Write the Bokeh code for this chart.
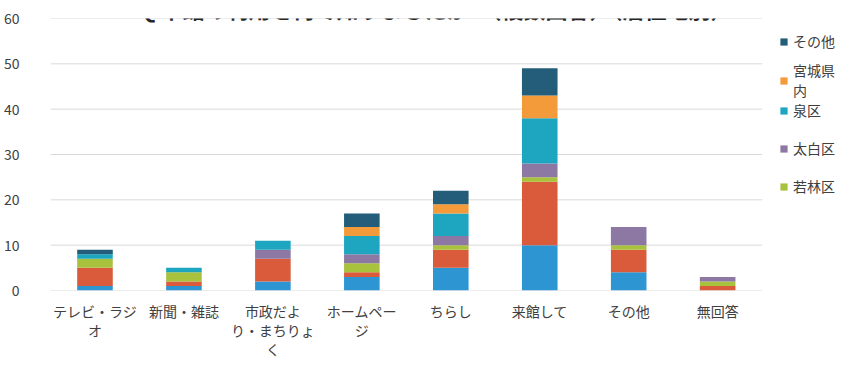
from bokeh.plotting import figure
from bokeh.models import Legend, LegendItem, Label, FixedTicker, ColumnDataSource, Range1d
from bokeh.embed import file_html
from bokeh.resources import INLINE

categories = ["テレビ・ラジオ", "新聞・雑誌", "市政だより・まちりょく", "ホームページ",
              "ちらし", "来館して", "その他", "無回答"]
tick_labels = ["テレビ・ラジ\nオ", "新聞・雑誌", "市政だよ\nり・まちりょ\nく", "ホームペー\nジ",
               "ちらし", "来館して", "その他", "無回答"]
series = ["青葉区", "宮城野区", "若林区", "太白区", "泉区", "宮城県内", "その他"]
legend_labels = ["青葉区", "宮城野区", "若林区", "太白区", "泉区", "宮城県\n内", "その他"]
aoba      = [1, 1, 2, 3, 5, 10, 4, 0]
miyagino  = [4, 1, 5, 1, 4, 14, 5, 1]
wakabayashi = [2, 2, 0, 2, 1, 1, 1, 1]
taihaku   = [0, 0, 2, 2, 2, 3, 4, 1]
izumi     = [1, 1, 2, 4, 5, 10, 0, 0]
miyagiken = [0, 0, 0, 2, 2, 5, 0, 0]
sonota    = [1, 0, 0, 3, 3, 6, 0, 0]
colors = ["#2E95D3", "#D95B3B", "#A8C23E", "#8D78A3", "#1EA6C1", "#F39B3B", "#235D79"]
yticks = [0, 10, 20, 30, 40, 50, 60]
title_text = "Q 本館の利用を何で知りましたか　（複数回答）（居住地別）"

FONT = "Noto Sans CJK JP"
n = len(categories)
xpos = list(range(n))

data = {"x": xpos, "cat": categories}
keys = ["s%d" % i for i in range(len(series))]
for k, vals in zip(keys, [aoba, miyagino, wakabayashi, taihaku, izumi, miyagiken, sonota]):
    data[k] = vals
src = ColumnDataSource(data)

p = figure(x_range=Range1d(-0.5, n - 0.5 + 0.926), y_range=Range1d(0, 60), width=844, height=366,
           output_backend="svg", toolbar_location=None,
           min_border_left=46, min_border_right=0, min_border_top=18, min_border_bottom=76)
p.outline_line_color = None
p.background_fill_color = "white"
p.border_fill_color = "white"
p.xgrid.grid_line_color = None
p.ygrid.grid_line_color = None

# horizontal gridlines only across the category area
p.segment(x0=[-0.5] * len(yticks), x1=[n - 0.5] * len(yticks), y0=yticks, y1=yticks,
          line_color="#D9D9D9", line_width=1)

renderers = p.vbar_stack(keys, x="x", width=0.4, source=src, color=colors, line_color=None)

p.yaxis.ticker = FixedTicker(ticks=yticks)
p.xaxis.ticker = FixedTicker(ticks=xpos)
p.xaxis.major_label_overrides = {i: t for i, t in zip(xpos, tick_labels)}
for ax in (p.xaxis, p.yaxis):
    ax.axis_line_color = None
    ax.major_tick_line_color = None
    ax.minor_tick_line_color = None
    ax.major_label_text_font = FONT
    ax.major_label_text_color = "#404040"
p.yaxis.major_label_text_font_size = "14px"
p.yaxis.major_label_standoff = 25
p.xaxis.major_label_text_font_size = "14px"
p.xaxis.major_label_standoff = 4
p.xaxis.major_label_text_line_height = 0.95


def make_legend(idx, loc, spacing):
    lg = Legend(items=[LegendItem(label=legend_labels[i], renderers=[renderers[i]]) for i in idx],
                location=loc, spacing=spacing)
    lg.border_line_color = None
    lg.background_fill_alpha = 0
    lg.padding = 0
    lg.margin = 0
    lg.glyph_width = 9
    lg.glyph_height = 9
    lg.label_standoff = 5
    lg.label_text_font = FONT
    lg.label_text_font_size = "14px"
    lg.label_text_color = "#404040"
    lg.label_height = 16
    lg.label_text_line_height = 0.9
    p.add_layout(lg, "center")


make_legend([6, 5], (729, 190), 9)
make_legend([4, 3, 2], (729, 94), 18)

p.add_layout(Label(x=385, y=283, x_units="screen", y_units="screen", text=title_text,
                   text_align="center", text_baseline="middle", text_font=FONT,
                   text_font_size="22px", text_font_style="bold", text_color="#262626"))

open("out.html", "w").write(file_html(p, INLINE))
